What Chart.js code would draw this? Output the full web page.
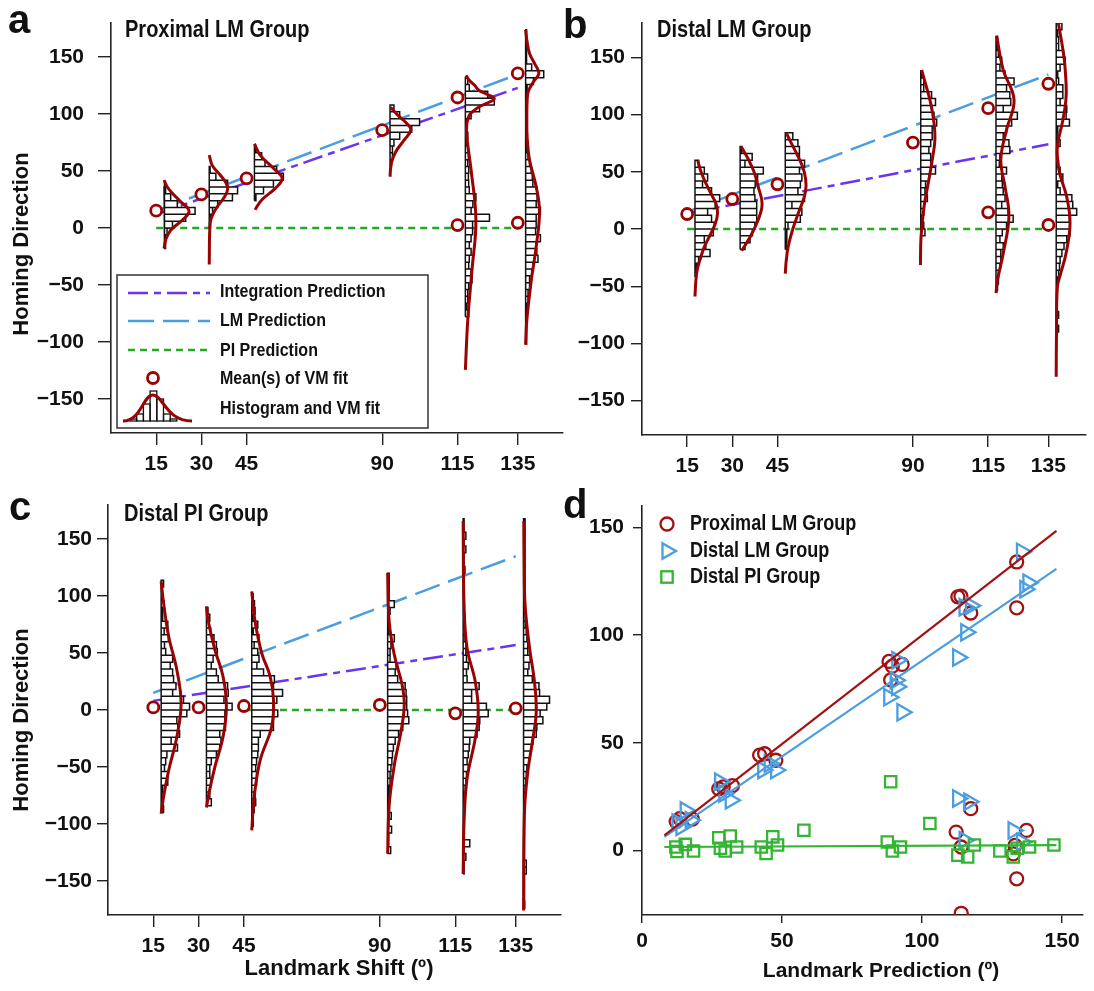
<!DOCTYPE html>
<html>
<head>
<meta charset="utf-8">
<title>Homing direction versus landmark shift</title>
<script src="https://cdn.jsdelivr.net/npm/chart.js@4"></script>
<style>
  body { margin: 0; background: #fff; }
  #wrap { position: relative; width: 1094px; height: 991px; overflow: hidden;
          font-family: "Liberation Sans", Arial, Helvetica, sans-serif; font-weight: bold; color: #111; }
  canvas { position: absolute; left: 0; top: 0; }
  .t { position: absolute; white-space: nowrap; line-height: 1; transform-origin: 0 0; }
  .rot { transform: translate(-50%, -50%) rotate(-90deg); transform-origin: 50% 50%; }
  .ctr { transform: translateX(-50%); }
  .ttl { font-size: 23px; transform: scaleX(.87); }
  .lga { font-size: 18px; left: 220px; transform: scaleX(.89); }
  .lgd { font-size: 22px; left: 690px; transform: scaleX(.82); }
</style>
</head>
<body>
<div id="wrap">
  <canvas id="chartA" width="1094" height="991"></canvas>
  <canvas id="chartB" width="1094" height="991"></canvas>
  <canvas id="chartC" width="1094" height="991"></canvas>
  <canvas id="chartD" width="1094" height="991"></canvas>

  <div class="t" style="left:8px;top:-1px;font-size:40px">a</div>
  <div class="t" style="left:563px;top:4px;font-size:40px">b</div>
  <div class="t" style="left:9px;top:486px;font-size:40px">c</div>
  <div class="t" style="left:563px;top:484px;font-size:40px">d</div>

  <div class="t ttl" style="left:125px;top:18px">Proximal LM Group</div>
  <div class="t ttl" style="left:657px;top:18px">Distal LM Group</div>
  <div class="t ttl" style="left:124px;top:502px">Distal PI Group</div>

  <div class="t rot" style="left:21px;top:244px;font-size:22px">Homing Direction</div>
  <div class="t rot" style="left:21px;top:720px;font-size:22px">Homing Direction</div>
  <div class="t ctr" style="left:339px;top:957px;font-size:22px">Landmark Shift (º)</div>
  <div class="t ctr" style="left:881px;top:959px;font-size:21px">Landmark Prediction (º)</div>

  <div class="t lga" style="top:282px">Integration Prediction</div>
  <div class="t lga" style="top:311px">LM Prediction</div>
  <div class="t lga" style="top:341px">PI Prediction</div>
  <div class="t lga" style="top:369px">Mean(s) of VM fit</div>
  <div class="t lga" style="top:399px">Histogram and VM fit</div>

  <div class="t lgd" style="top:512px">Proximal LM Group</div>
  <div class="t lgd" style="top:539px">Distal LM Group</div>
  <div class="t lgd" style="top:565px">Distal PI Group</div>
</div>

<script>
// ---- data -----------------------------------------------------------------

// landmark shifts (x ticks of panels a-c) and the homing-direction ticks
const shifts = [15, 30, 45, 90, 115, 135];
const yTicks = [-150, -100, -50, 0, 50, 100, 150];
const dTicks = [0, 50, 100, 150];

// histogram bins are 6 deg wide; widths are read in x units (deg of shift)
const BIN = 6;

// model predictions (same LM / PI line in every panel)
const lmPred = [[15, 15], [135, 135]];
const piPred = [[15, 0], [135, 0]];

// panel a: Proximal LM Group
const histStartA = [-18, 0, 24, 54, -78, -102];
const histA15 = [0.5, 0.5, 1, 2.8, 7.2, 10.3, 4.4, 2.2, 0.5, 0.3];
const histA30 = [0.3, 0.5, 1.1, 2.8, 7.7, 9.4, 6.1, 2.2, 0.3];
const histA45 = [0.5, 3, 6.3, 9.6, 7.4, 3.5, 2.4, 0.5];
const histA90 = [0.5, 0.8, 0.8, 1.3, 3.2, 7.2, 9.8, 3.2, 1.3];
const histA115 = [1.1, 0.5, 0.8, 0.8, 1.1, 2.2, 1.9, 1.1, 1.3, 1.9, 1.3, 1.9, 2.4, 2.4, 8, 1.9, 2.5, 3.5,
  1.3, 1.1, 1, 1.1, 0.8, 1, 0.8, 0.5, 0.8, 0.3, 0.3, 1.9, 4.7, 9.6, 7.4, 1.3, 0.8];
const histA135 = [0.3, 0.3, 0.3, 0.3, 0.5, 0.5, 0.8, 0.8, 1.3, 1.3, 2, 2.4, 4.1, 3.7, 3.5, 4.9, 3.3, 3.5,
  3.5, 4.9, 3.5, 3.8, 3.8, 2.4, 2.2, 1.9, 1.3, 0.8, 0.5, 0.5, 0.3, 0.3, 0.3, 0.5, 0.3, 0.3, 0.3, 0.5,
  2.6, 6, 2, 0.3, 0.3, 0.3, 0.3, 0.3];
// VM fit curves: [homing direction, curve width]
const curveA15 = [[-18, 0], [-10, 0.6], [-2, 2.2], [7, 6.1], [15, 8.3], [24, 5.2], [31, 2.6], [36, 1.1], [42, 0]];
const curveA30 = [[-32, 0], [4, 0.3], [12, 1.2], [20, 3], [27, 5], [34, 6.1], [40, 5.5], [47, 3.5], [55, 1], [64, 0]];
const curveA45 = [[16, 0.2], [24.6, 2.4], [34.8, 6.9], [43.6, 9.2], [52.4, 6.3], [64, 1.9], [74, 0]];
const curveA90 = [[45, 0], [56.7, 0.4], [67, 1.9], [77, 4.6], [86, 6.9], [92, 5.5], [98, 3], [106, 0.2]];
const curveA115 = [[-124.6, 0], [-80.7, 0.8], [-36.8, 2.2], [7, 3.5], [50.9, 1.9], [80, 0.5], [92, 0.5], [99, 1.3],
  [103, 2.8], [106.5, 4.6], [110, 7.5], [113.5, 9.6], [117, 7.5], [121, 4.5], [125.5, 3], [130, 1.2], [134, 0.2]];
const curveA135 = [[-102.6, 0], [-80.7, 0.4], [-45.6, 1.9], [-16.4, 3.5], [14.3, 4.6], [36.3, 3.5], [59.6, 1.3],
  [80, 0.5], [95, 0.4], [112, 0.5], [120, 0.9], [128.4, 2.6], [135.7, 4.4], [144.4, 3], [153.2, 1.3], [165, 0.4], [174, 0]];
const meansA = [[15, 15.2], [30, 29.5], [45, 43.6], [90, 86], [115, 114.6], [115, 2.6], [135, 135.7], [135, 4.6]];
const intPredA = [[15, 12], [135, 123]];

// panel b: Distal LM Group
const histStartB = [-42, -18, -18, -6, -54, -90];
const histB15 = [0.3, 0.5, 1.2, 5, 3.6, 3.1, 6.1, 6.4, 5.5, 4.2, 6.7, 8.2, 5.5, 2.5, 4.2, 3.1, 1.2];
const histB30 = [1.6, 3.3, 4.1, 4.9, 5.5, 5.5, 5.5, 4.9, 4.6, 5.0, 5.8, 7.7, 1.6, 4.0, 0.5];
const histB45 = [0.3, 0.5, 0.5, 0.9, 5, 5.5, 2.2, 6.4, 4.2, 5, 5.5, 4.7, 6.4, 4.7, 4.7, 4.2, 2.5];
const histB90 = [1.4, 1, 0.5, 1, 1.1, 2.2, 1.4, 1.6, 2.7, 4.9, 3.3, 3.3, 2.7, 3.3, 3.8, 3.8, 5.3, 4.4, 3.6,
  4.9, 3.6, 1, 1, 0.5];
const histB115 = [0.5, 0.8, 0.8, 1.3, 1.6, 1.6, 2.4, 1.3, 2.1, 3.5, 5.7, 4, 1.9, 3, 2.4, 2.1, 1.9, 3.5, 1.1,
  1.3, 4.6, 4.3, 2.4, 3.5, 5.2, 7.1, 2.4, 4.9, 4.6, 3.5, 6, 3, 1.3, 1.9, 0.8, 0.5, 0.5];
const histB135 = [0.8, 0.3, 0.8, 0.3, 0.3, 0.3, 0.3, 0.5, 0.8, 1.1, 1.3, 1.9, 2.6, 3.5, 4.6, 4.6, 4.4, 6.8,
  5.5, 5.2, 1.3, 0.5, 2.2, 1.3, 0.8, 0.3, 0.3, 1.3, 0.3, 0.5, 4.4, 3.3, 3.5, 1.3, 2.2, 2.2, 0.8, 0.5, 1.3,
  3, 2.4, 0.8, 0.8, 0.5, 1.9];
const curveB15 = [[-59, 0], [-45, 0.3], [-35, 0.8], [-24, 2], [-15, 3.2], [-7, 4.7], [5, 6.8], [14, 7.5], [22, 7],
  [30, 5.5], [40, 3.6], [50, 2], [60, 0.9]];
const curveB30 = [[-19, 0.5], [-7, 3.3], [8, 6], [22, 7.3], [37, 6], [50, 4.6], [62, 2.5], [72, 0.3]];
const curveB45 = [[-39, 0], [-28, 0.3], [-15, 1], [0, 2.5], [15, 4.5], [28, 6.3], [38, 6.9], [50, 6.3], [62, 4.5],
  [75, 2], [84, 0.3]];
const curveB90 = [[-31.5, -0.1], [-6.7, 0.1], [19.5, 1.1], [43, 2.7], [60, 3.8], [78, 4.7], [95, 4.3], [110, 3.3],
  [125, 1.8], [139, 0.3]];
const curveB115 = [[-56, 0], [-44.6, 0.5], [-21.3, 2.4], [10.8, 4.3], [37, 3], [60.4, 1.6], [86.6, 3.5],
  [112.9, 6], [139, 2.4], [169, 0.2]];
const curveB135 = [[-129, 0], [-90, 0.1], [-50.5, 0.4], [-38.8, 1.5], [-21, 3.3], [5, 4.6], [28, 3.5], [51.6, 0.9],
  [72, 0.4], [95, 2.2], [116, 3.3], [139, 3], [154, 2.4], [180, 0.7]];
const meansB = [[15, 13.1], [30, 26.2], [45, 39.1], [90, 75.5], [115, 105.6], [115, 14.6], [135, 126.9], [135, 3.5]];
const intPredB = [[15, 13.7], [135, 74]];

// panel c: Distal PI Group
const histStartC = [-90, -84, -102, -126, -144, -174];
const histC15 = [0.8, 0.3, 0.3, 0.5, 2.2, 2.2, 1.1, 1.5, 1.9, 5.4, 3.3, 6.1, 5.5, 5.2, 8.5, 9.4, 7.4, 3.8,
  4.9, 4.1, 3.8, 3, 3.8, 1.5, 1.1, 2.4, 1, 2.2, 0.5, 0.5, 1, 0.3, 0.3, 0.8];
const histC30 = [1.6, 1.1, 1.1, 1.6, 1.1, 1.1, 1.6, 3.3, 4.4, 4.8, 4.4, 6.3, 6.1, 6.1, 8.5, 5.8, 7.2, 7.0,
  3.9, 3.3, 1.6, 2.2, 3.6, 3.3, 2.5, 1.4, 0.8, 1.1, 0.5];
const histC45 = [0.5, 0.5, 0.8, 1.3, 1.1, 1.1, 1.6, 1.6, 1.3, 1.6, 2, 2.2, 2.2, 2.8, 7.2, 7.2, 8.6, 7.2, 8.3,
  10.2, 7.2, 7.5, 3.9, 1.7, 2.4, 2, 0.8, 2.4, 0.5, 2, 0.5, 1.1, 0.9, 0.5];
const histC90 = [1, 0.3, 0.3, 1.3, 0.3, 1.2, 0.3, 0.3, 0.5, 0.5, 0.8, 0.8, 1.1, 1.4, 1.6, 1.9, 2.5, 3.6, 5,
  7, 6.6, 6.3, 6.3, 6.1, 5.8, 3.3, 2.5, 2.8, 0.8, 0.8, 1.1, 2.2, 0.5, 0.5, 0.5, 0.8, 2.2, 0.5, 0.5, 0.5, 0.5];
const histC115 = [0.3, 0.3, 0.9, 0.3, 2.2, 0.3, 0.3, 0.3, 0.3, 0.5, 0.5, 0.5, 0.7, 0.9, 1.1, 1.7, 1.3, 1.7,
  2, 2.2, 4.6, 5.3, 5.5, 8.3, 7.7, 2.8, 2.8, 5.3, 1.3, 1.1, 1.7, 1.1, 0.9, 0.9, 0.6, 0.6, 0.5, 0.5, 0.3,
  0.3, 0.3, 0.3, 0.3, 0.3, 0.6, 0.3, 0.3, 0.9, 0.3, 0.9, 0.3, 0.3];
const histC135 = [0.4, 0.3, 0.3, 0.3, 0.3, 0.9, 0.9, 0.3, 0.3, 0.3, 0.3, 0.3, 0.3, 0.3, 0.5, 0.5, 0.5, 0.6,
  0.7, 0.9, 1.1, 1.8, 2.2, 2.6, 3.1, 4.2, 4.4, 6.4, 5.5, 7.7, 8.6, 5.3, 5.1, 2.9, 1.4, 1.8, 2.2, 1.4, 1.4,
  1.1, 0.9, 0.6, 0.6, 0.5, 0.5, 0.5, 0.5, 0.5, 0.5, 0.5, 0.5, 0.5, 0.5, 0.5, 0.5, 0.5, 0.5];
const curveC15 = [[-91, 0], [-76.4, 0.8], [-52.9, 2.5], [-23.5, 5.2], [5.9, 6.6], [35.2, 5.2], [64.6, 2.5], [94, 0.8], [113, 0]];
const curveC30 = [[-85.7, 0], [-73.4, 0.8], [-50, 2.8], [-23.5, 5.5], [2.9, 6.6], [29.4, 5.5], [52.9, 2.8], [79.3, 0.5], [91, 0]];
const curveC45 = [[-105.7, 0], [-76.4, 0.8], [-44, 2.8], [-14.7, 6.6], [8.8, 7.2], [29.4, 6.1], [50, 3.3], [79.3, 1], [104.2, 0]];
const curveC90 = [[-126.3, 0], [-83.7, 0.5], [-48.5, 2.2], [-19.1, 4.4], [4.4, 5.5], [22, 4.8], [48.5, 2.2], [77.8, 0.5], [120.4, 0]];
const curveC115 = [[-144, 0], [-98.4, 0.3], [-60.2, 1.3], [-25, 4], [-1.5, 5], [25, 4], [54.3, 1.3], [92.5, 0.3], [166, 0]];
const curveC135 = [[-176, 0], [-89.6, 0.3], [-54.3, 1.4], [-25, 3.1], [-1.5, 4.2], [25, 3.6], [54.3, 2], [92.5, 0.5],
  [130, 0.2], [166, 0.1]];
const meansC = [[15, 2.3], [30, 2.3], [45, 3.5], [90, 4.4], [115, -2.9], [135, 1.5]];
const intPredC = [[15, 8], [135, 57]];
const piPredC = [[45, 0], [135, 0]];

// panel d: [landmark prediction, homing direction] per individual
const proximalPts = [[12.2, 13.4], [13.5, 14.8], [18, 14.5], [27.4, 28.6], [29, 29.5], [32.3, 30.1], [42, 44.3],
  [43.8, 44.9], [47.8, 41.9], [88.2, 87.8], [89.4, 85.6], [92.9, 86.4], [88.8, 79.2], [112.8, 117.8],
  [113.9, 118.1], [117.4, 110.3], [133.8, 134], [133.8, 112.7], [117.4, 19.4], [112.2, 8.5], [114, 1.6],
  [137.3, 9.3], [133.2, 2.3], [132.6, -1.6], [133.8, -13.2], [114, -29.2]];
const distalLmPts = [[12.6, 13], [14, 11], [15.5, 18.6], [17.3, 14], [27.8, 31.9], [29.3, 26.4], [31.6, 23.3],
  [43.2, 37.3], [45.5, 40.4], [47.8, 37.3], [88.2, 71.2], [90.5, 79], [91, 76], [91.1, 88.3], [92.9, 64.2],
  [112.8, 89.6], [115.7, 101.3], [115.1, 113], [117.4, 113.7], [135.6, 138.7], [136.8, 121.3], [137.9, 124.4],
  [112.8, 24.1], [116.8, 22.6], [115.1, 4.7], [132.6, 9.3], [135.6, 3.9]];
const distalPiPts = [[12.1, 1.6], [12.5, -0.5], [15.5, 2.8], [18.4, -0.3], [27.4, 5.9], [28, 1], [29.7, -0.3],
  [31.5, 6.7], [33.8, 1.6], [42.6, 1.6], [44.3, -1.4], [46.7, 6.3], [48.4, 2.5], [57.8, 9.4], [88.8, 31.9],
  [87.6, 3.9], [89.4, -0.3], [92.3, 1.6], [102.8, 12.5], [112.8, -2.2], [116.3, -3], [118.7, 2.5],
  [127.8, -0.3], [132.6, -3], [134, 1], [138.4, 1.6], [147.1, 2.5]];
const fitProximal = [[8, 7], [148, 148.4]];
const fitDistalLm = [[8, 6.3], [148, 130.8]];
const fitDistalPi = [[8, 1.6], [148, 2.5]];

// ---- styling / layout -----------------------------------------------------

const FONT = '"Liberation Sans", Arial, Helvetica, sans-serif';
const W = 1094, H = 991, YW = 100, XH = 60;   // wide axis boxes so tick labels are not clipped
const HIST_OFFSET = 2.6;           // histograms sit just right of their shift
const C_INT = '#6a35f2', C_LM = '#4a9de0', C_PI = '#22aa22', C_RED = '#9a0303';
const C_D_RED = '#a31212', C_D_BLUE = '#4a9de0', C_D_GREEN = '#33b533';
const DASH_INT = [20, 6, 7, 6], DASH_LM = [26, 9], DASH_PI = [7, 5];

Chart.defaults.font.family = FONT;

function fmtNum(v) { return v < 0 ? '\u2212' + Math.abs(v) : String(v); }
function pairs(arr) { return arr.map(([x, y]) => ({ x, y })); }

// outline of a sideways histogram: one closed rectangle per bin, left edge on the base
function histPoints(shift, start, widths) {
  const base = shift + HIST_OFFSET;
  const pts = [{ x: base, y: start }];
  widths.forEach((w, i) => {
    const lo = start + i * BIN;
    pts.push({ x: base + w, y: lo }, { x: base + w, y: lo + BIN }, { x: base, y: lo + BIN });
  });
  pts.push({ x: base, y: start });
  return pts;
}
function curvePoints(shift, curve) {
  const base = shift + HIST_OFFSET;
  return curve.map(([y, w]) => ({ x: base + w, y }));
}

function axis(pos, min, max, tickVals, t) {
  return {
    type: 'linear', position: pos, min, max,
    afterBuildTicks: s => { s.ticks = tickVals.map(v => ({ value: v })); },
    afterFit: s => {
      if (pos === 'left') s.width = YW; else s.height = XH;
      s.paddingLeft = s.paddingRight = s.paddingTop = s.paddingBottom = 0;
    },
    ticks: { autoSkip: false, maxRotation: 0, color: '#111', padding: t.pad,
             font: { family: FONT, size: 21, weight: 'bold' }, callback: v => fmtNum(v) },
    grid: { drawOnChartArea: false, drawTicks: true, tickLength: t.len, color: '#222', lineWidth: 1.4 },
    border: { display: true, color: '#222', width: 1.6 }
  };
}

function lineSet(pts, color, dash, width) {
  return { data: pairs(pts), showLine: true, borderColor: color, borderDash: dash, borderWidth: width,
           pointRadius: 0, order: 3 };
}

function shiftPanel(id, g, hists, starts, curves, means, intPred, pi, yt, extra) {
  const datasets = [{
    data: pairs(means), showLine: false, pointRadius: 5.5, pointBorderWidth: 2.8,
    pointBorderColor: C_RED, pointBackgroundColor: '#fff', borderColor: C_RED, order: 0
  }];
  curves.forEach((c, i) => datasets.push({
    data: curvePoints(shifts[i], c), showLine: true, borderColor: C_RED, borderWidth: 3,
    tension: 0.4, pointRadius: 0, order: 1
  }));
  hists.forEach((h, i) => datasets.push({
    data: histPoints(shifts[i], starts[i], h), showLine: true, borderColor: '#111', borderWidth: 1.5,
    backgroundColor: '#fff', fill: 'shape', pointRadius: 0, order: 2
  }));
  datasets.push(lineSet(intPred, C_INT, DASH_INT, 2.5));
  datasets.push(lineSet(lmPred, C_LM, DASH_LM, 2.5));
  datasets.push(lineSet(pi, C_PI, DASH_PI, 2.5));

  return new Chart(document.getElementById(id), {
    type: 'scatter',
    data: { datasets },
    options: {
      responsive: false, animation: false, events: [],
      layout: { padding: { left: g.L - YW, right: W - g.R, top: g.T, bottom: H - g.B - XH } },
      plugins: { legend: { display: false }, tooltip: { enabled: false } },
      scales: {
        x: axis('bottom', 0, g.xMax, shifts, { len: 12, pad: 7 }),
        y: axis('left', -180, 180, yTicks, yt)
      }
    },
    plugins: extra
  });
}

// legend box of panel a (lines, mean marker, histogram glyph)
const legendA = {
  id: 'legendA',
  afterDraw(chart) {
    const ctx = chart.ctx;
    ctx.save();
    ctx.fillStyle = '#fff';
    ctx.strokeStyle = '#333';
    ctx.lineWidth = 1.5;
    ctx.fillRect(117, 275, 311, 153);
    ctx.strokeRect(117, 275, 311, 153);
    [[293, C_INT, DASH_INT], [321, C_LM, DASH_LM], [350, C_PI, DASH_PI]].forEach(([y, c, d]) => {
      ctx.setLineDash(d);
      ctx.strokeStyle = c;
      ctx.lineWidth = 2.5;
      ctx.beginPath(); ctx.moveTo(128, y); ctx.lineTo(210, y); ctx.stroke();
    });
    ctx.setLineDash([]);
    ctx.strokeStyle = C_RED; ctx.lineWidth = 2.8;
    ctx.beginPath(); ctx.arc(153, 378, 5.5, 0, Math.PI * 2); ctx.fill(); ctx.stroke();
    // mini histogram
    ctx.strokeStyle = '#111'; ctx.lineWidth = 1.3;
    [[130, 2], [136.7, 7], [143.4, 17], [150.1, 30], [156.8, 22], [163.5, 7], [170.2, 2]].forEach(([x, h]) => {
      ctx.strokeRect(x, 421 - h, 6.7, h);
    });
    ctx.strokeStyle = C_RED; ctx.lineWidth = 3;
    ctx.beginPath();
    ctx.moveTo(123, 421);
    ctx.bezierCurveTo(141, 421, 143, 395, 153, 395);
    ctx.bezierCurveTo(163, 395, 166, 421, 192, 421);
    ctx.stroke();
    ctx.restore();
  }
};

shiftPanel('chartA', { L: 111, R: 563, T: 23, B: 433, xMax: 150 },
  [histA15, histA30, histA45, histA90, histA115, histA135], histStartA,
  [curveA15, curveA30, curveA45, curveA90, curveA115, curveA135], meansA, intPredA, piPred,
  { len: 13, pad: 14 }, [legendA]);

shiftPanel('chartB', { L: 642, R: 1090, T: 23, B: 435, xMax: 147.4 },
  [histB15, histB30, histB45, histB90, histB115, histB135], histStartB,
  [curveB15, curveB30, curveB45, curveB90, curveB115, curveB135], meansB, intPredB, piPred,
  { len: 11, pad: 6 }, []);

shiftPanel('chartC', { L: 108, R: 561, T: 505, B: 915, xMax: 150 },
  [histC15, histC30, histC45, histC90, histC115, histC135], histStartC,
  [curveC15, curveC30, curveC45, curveC90, curveC115, curveC135], meansC, intPredC, piPredC,
  { len: 11, pad: 5 }, []);

// ---- panel d --------------------------------------------------------------

const legendD = {
  id: 'legendD',
  afterDraw(chart) {
    const ctx = chart.ctx;
    ctx.save();
    ctx.lineWidth = 2.3;
    ctx.strokeStyle = C_D_RED;
    ctx.beginPath(); ctx.arc(667, 524, 6.5, 0, Math.PI * 2); ctx.stroke();
    ctx.strokeStyle = C_D_BLUE;
    ctx.beginPath();
    ctx.moveTo(667 + 9, 551); ctx.lineTo(667 - 4.5, 551 - 7.8); ctx.lineTo(667 - 4.5, 551 + 7.8); ctx.closePath();
    ctx.stroke();
    ctx.strokeStyle = C_D_GREEN;
    ctx.strokeRect(667 - 5.7, 577 - 5.7, 11.4, 11.4);
    ctx.restore();
  }
};

function ptSet(pts, color, style, radius, rotation) {
  return { data: pairs(pts), showLine: false, pointStyle: style, pointRadius: radius, pointRotation: rotation,
           pointBorderWidth: 2.3, pointBorderColor: color, pointBackgroundColor: 'rgba(0,0,0,0)',
           borderColor: color, order: 1 };
}
function fitSet(pts, color) {
  return { data: pairs(pts), showLine: true, borderColor: color, borderWidth: 2.2, pointRadius: 0, order: 0 };
}

new Chart(document.getElementById('chartD'), {
  type: 'scatter',
  data: {
    datasets: [
      fitSet(fitProximal, C_D_RED),
      fitSet(fitDistalLm, C_D_BLUE),
      fitSet(fitDistalPi, C_D_GREEN),
      ptSet(distalPiPts, C_D_GREEN, 'rect', 8, 0),
      ptSet(distalLmPts, C_D_BLUE, 'triangle', 9.5, 90),
      ptSet(proximalPts, C_D_RED, 'circle', 6.5, 0)
    ]
  },
  options: {
    responsive: false, animation: false, events: [],
    layout: { padding: { left: 642 - YW, right: W - 1090, top: 506, bottom: H - 915 - XH } },
    plugins: { legend: { display: false }, tooltip: { enabled: false } },
    scales: {
      x: axis('bottom', 0, 157.2, dTicks, { len: 8, pad: 6 }),
      y: axis('left', -30, 160, dTicks, { len: 9, pad: 9 })
    }
  },
  plugins: [legendD]
});
</script>
</body>
</html>
